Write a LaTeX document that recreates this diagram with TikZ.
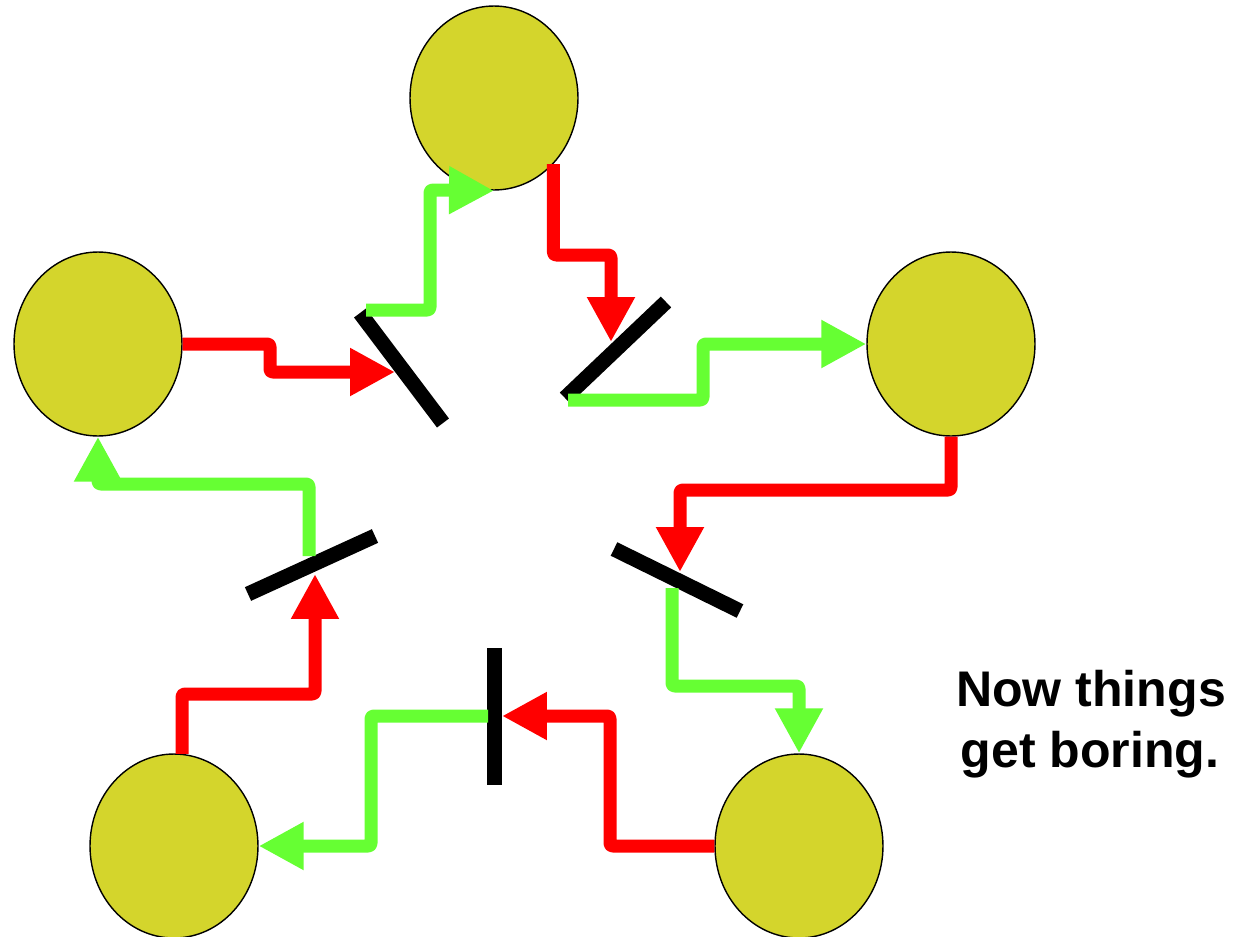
\documentclass[tikz,border=0pt]{standalone}
\usepackage{fontspec}
\setmainfont{Liberation Sans}
\usetikzlibrary{arrows.meta,shapes.geometric}
\definecolor{dtdtec}{rgb}{0.831,0.835,0.173}
\definecolor{ffqqqq}{rgb}{1,0,0}
\definecolor{uuffrr}{rgb}{0.4,1,0.2}

\begin{document}
\begin{tikzpicture}[x=0.02cm,y=-0.02cm,line join=round,
  ball/.style={draw=black,line width=0.8pt,fill=dtdtec,ellipse,minimum width=3.36cm,minimum height=3.68cm,inner sep=0pt},
  mirror/.style={draw=black,line width=0.3cm},
  ray/.style={line width=0.26cm,rounded corners=1.5pt,-{Triangle[length=0.9cm,width=0.9cm]}},
  redray/.style={ray,color=ffqqqq},
  greenray/.style={ray,color=uuffrr},
  note/.style={anchor=base,inner sep=0pt,font=\bfseries\fontsize{28.5}{34}\selectfont}]
\useasboundingbox (0,0) rectangle (1235,937);
% the five balls
\node[ball] (top) at (494,98) {};
\node[ball] (left) at (98,344) {};
\node[ball] (right) at (951,344) {};
\node[ball] (botleft) at (174,846) {};
\node[ball] (botright) at (799,846) {};
% mirror ends
\coordinate (m1a) at (360,313); \coordinate (m1b) at (443,423);
\coordinate (m2a) at (565,398); \coordinate (m2b) at (666,302);
\coordinate (m3a) at (614,549); \coordinate (m3b) at (740,611);
\coordinate (m4a) at (248,594); \coordinate (m4b) at (375,536);
\coordinate (m5a) at (494,648); \coordinate (m5b) at (494,785);
\draw[mirror] (m1a) -- (m1b);
\draw[mirror] (m2a) -- (m2b);
\draw[mirror] (m3a) -- (m3b);
\draw[mirror] (m4a) -- (m4b);
\draw[mirror] (m5a) -- (m5b);
% where the rays meet the mirrors
\coordinate (h1) at (395,372); \coordinate (o1) at (366,310);
\coordinate (h2) at (611,342); \coordinate (o2) at (568,400);
\coordinate (h3) at (680,572); \coordinate (o3) at (672,588);
\coordinate (h5) at (502,716); \coordinate (o5) at (488,716);
\coordinate (h4) at (315,574); \coordinate (o4) at (309,556);
% red rays
\draw[redray] (left.east) -- (270,344) -- (270,372) -- (h1);
\draw[redray] (top.-48) |- (611,255) -- (h2);
\draw[redray] (right.south) -- (951,490) -- (680,490) -- (h3);
\draw[redray] (botright.west) -- (610,846) -- (610,716) -- (h5);
\draw[redray] (botleft.85) |- (315,694) -- (h4);
% green rays
\draw[greenray] (o1) -- (430,310) -- (430,190) -- (top.south);
\draw[greenray] (o2) -- (703,400) -- (703,344) -- (right.west);
\draw[greenray] (o3) -- (672,686) -- (799,686) -- (botright.north);
\draw[greenray] (o5) -- (371,716) -- (371,846) -- (botleft.east);
\draw[greenray] (o4) -- (309,484) -- (98,484) -- (left.south);
% the caption
\node[note] (note1) at (1091,706) {Now things};
\node[note] (note2) at (1090,767) {get boring.};
\end{tikzpicture}
\end{document}
